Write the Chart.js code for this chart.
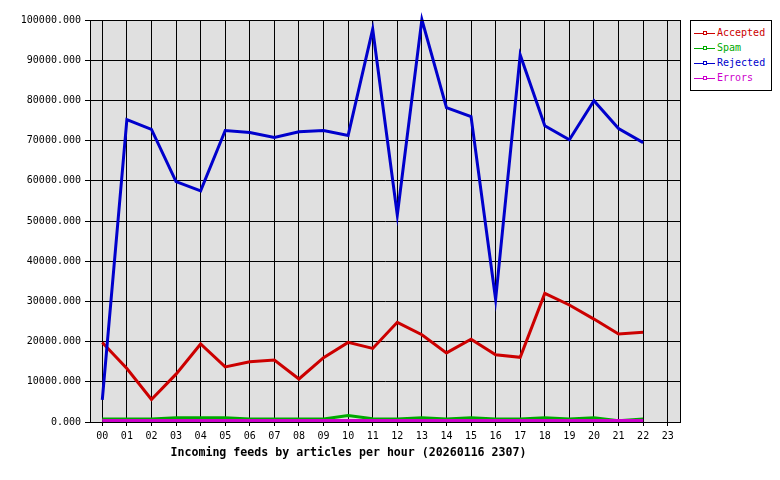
<!DOCTYPE html>
<html>
<head>
<meta charset="utf-8">
<script src="https://cdn.jsdelivr.net/npm/chart.js@4.4.1/dist/chart.umd.min.js"></script>
<style>
  body { margin: 0; background: #fff; }
  #wrap { position: relative; width: 780px; height: 480px; }
  #legend {
    position: absolute; left: 690px; top: 20px; width: 82px; height: 71px;
    border: 1px solid #000; background: #fff; box-sizing: border-box;
    padding-top: 4px; font: 10px "DejaVu Sans Mono", monospace;
  }
  .row { height: 15px; line-height: 15px; white-space: nowrap; }
  .sample { display: inline-block; position: relative; width: 21px; height: 1px;
    vertical-align: middle; margin: 0 2px 0 3px; }
  .sample i { position: absolute; left: 9px; top: -2px; width: 4px; height: 4px;
    border: 1px solid; box-sizing: border-box; background: #fff; }
  #title {
    position: absolute; left: 0; top: 445px; width: 697px; text-align: center;
    font: bold 11.6px "DejaVu Sans Mono", monospace; line-height: 14px; color: #000;
  }
</style>
</head>
<body>
<div id="wrap">
  <canvas id="feedChart" width="780" height="480"></canvas>
  <div id="legend"></div>
  <div id="title">Incoming feeds by articles per hour (20260116 2307)</div>
</div>
<script>
const hours = ["00","01","02","03","04","05","06","07","08","09","10","11",
               "12","13","14","15","16","17","18","19","20","21","22","23"];

const accepted = [19800, 13300, 5600, 11900, 19400, 13700, 15000, 15400, 10700, 16000, 19800, 18300,
                  24800, 21700, 17200, 20600, 16700, 16100, 32000, 29100, 25600, 21900, 22300];
const spam     = [750, 750, 750, 1050, 1050, 1050, 750, 750, 750, 750, 1600, 800,
                  750, 1050, 750, 1050, 750, 750, 1050, 750, 1050, 300, 750];
const rejected = [5500, 75200, 72800, 59800, 57500, 72500, 72000, 70800, 72200, 72500, 71300, 97700,
                  51500, 100100, 78200, 76000, 30500, 91300, 73700, 70200, 79900, 73000, 69500];
const errors   = [400, 400, 400, 400, 400, 400, 400, 400, 400, 400, 400, 400,
                  400, 400, 400, 400, 400, 400, 400, 400, 400, 400, 400];

const seriesNames = ["Accepted", "Spam", "Rejected", "Errors"];
const seriesColors = ["#cc0000", "#00aa00", "#0000cc", "#cc00cc"];
const yTicks = [0, 10000, 20000, 30000, 40000, 50000, 60000, 70000, 80000, 90000, 100000];

// legend box on the right
const legend = document.getElementById("legend");
seriesNames.forEach((name, i) => {
  const row = document.createElement("div");
  row.className = "row";
  row.style.color = seriesColors[i];
  row.innerHTML = '<span class="sample" style="background:' + seriesColors[i] +
    '"><i style="border-color:' + seriesColors[i] + '"></i></span>' + name;
  legend.appendChild(row);
});

const plotBg = {
  id: "plotBg",
  beforeDraw(chart) {
    const { ctx, chartArea: a } = chart;
    ctx.save();
    ctx.fillStyle = "#fff";
    ctx.fillRect(0, 0, chart.width, chart.height);
    ctx.fillStyle = "#e0e0e0";
    ctx.fillRect(a.left, a.top, a.right - a.left, a.bottom - a.top);
    ctx.restore();
  },
  afterDraw(chart) {
    const { ctx, chartArea: a } = chart;
    ctx.save();
    ctx.strokeStyle = "#000";
    ctx.lineWidth = 1;
    ctx.strokeRect(Math.round(a.left) + 0.5, Math.round(a.top) + 0.5,
      Math.round(a.right - a.left), Math.round(a.bottom - a.top));
    ctx.restore();
  }
};

const tickFont = { family: "DejaVu Sans Mono", size: 10 };
const allData = [accepted, spam, rejected, errors];
// later series are painted on top
const orders = [4, 3, 2, 1];

new Chart(document.getElementById("feedChart"), {
  type: "line",
  data: {
    labels: hours,
    datasets: seriesNames.map((name, i) => ({
      label: name,
      data: allData[i],
      borderColor: seriesColors[i],
      backgroundColor: seriesColors[i],
      borderWidth: 3,
      pointRadius: 0,
      tension: 0,
      fill: false,
      order: orders[i],
      clip: false
    }))
  },
  options: {
    responsive: false,
    animation: false,
    layout: { padding: { top: 20, right: 100, left: 0, bottom: 0 } },
    plugins: {
      legend: { display: false },
      tooltip: { enabled: false }
    },
    scales: {
      x: {
        offset: true,
        grid: { color: "#000", lineWidth: 1, offset: false, tickLength: 4 },
        border: { color: "#000", width: 1 },
        ticks: { color: "#000", font: tickFont, padding: 4, maxRotation: 0, autoSkip: false },
        afterFit: (s) => { s.height = 58; }
      },
      y: {
        min: 0,
        max: 100000,
        grid: { color: "#000", lineWidth: 1, tickLength: 5 },
        border: { color: "#000", width: 1 },
        afterBuildTicks: (s) => { s.ticks = yTicks.map(v => ({ value: v })); },
        ticks: {
          color: "#000", font: tickFont, padding: 4,
          callback: (v) => Number(v).toFixed(3)
        },
        afterFit: (s) => { s.width = 90; }
      }
    }
  },
  plugins: [plotBg]
});
</script>
</body>
</html>
